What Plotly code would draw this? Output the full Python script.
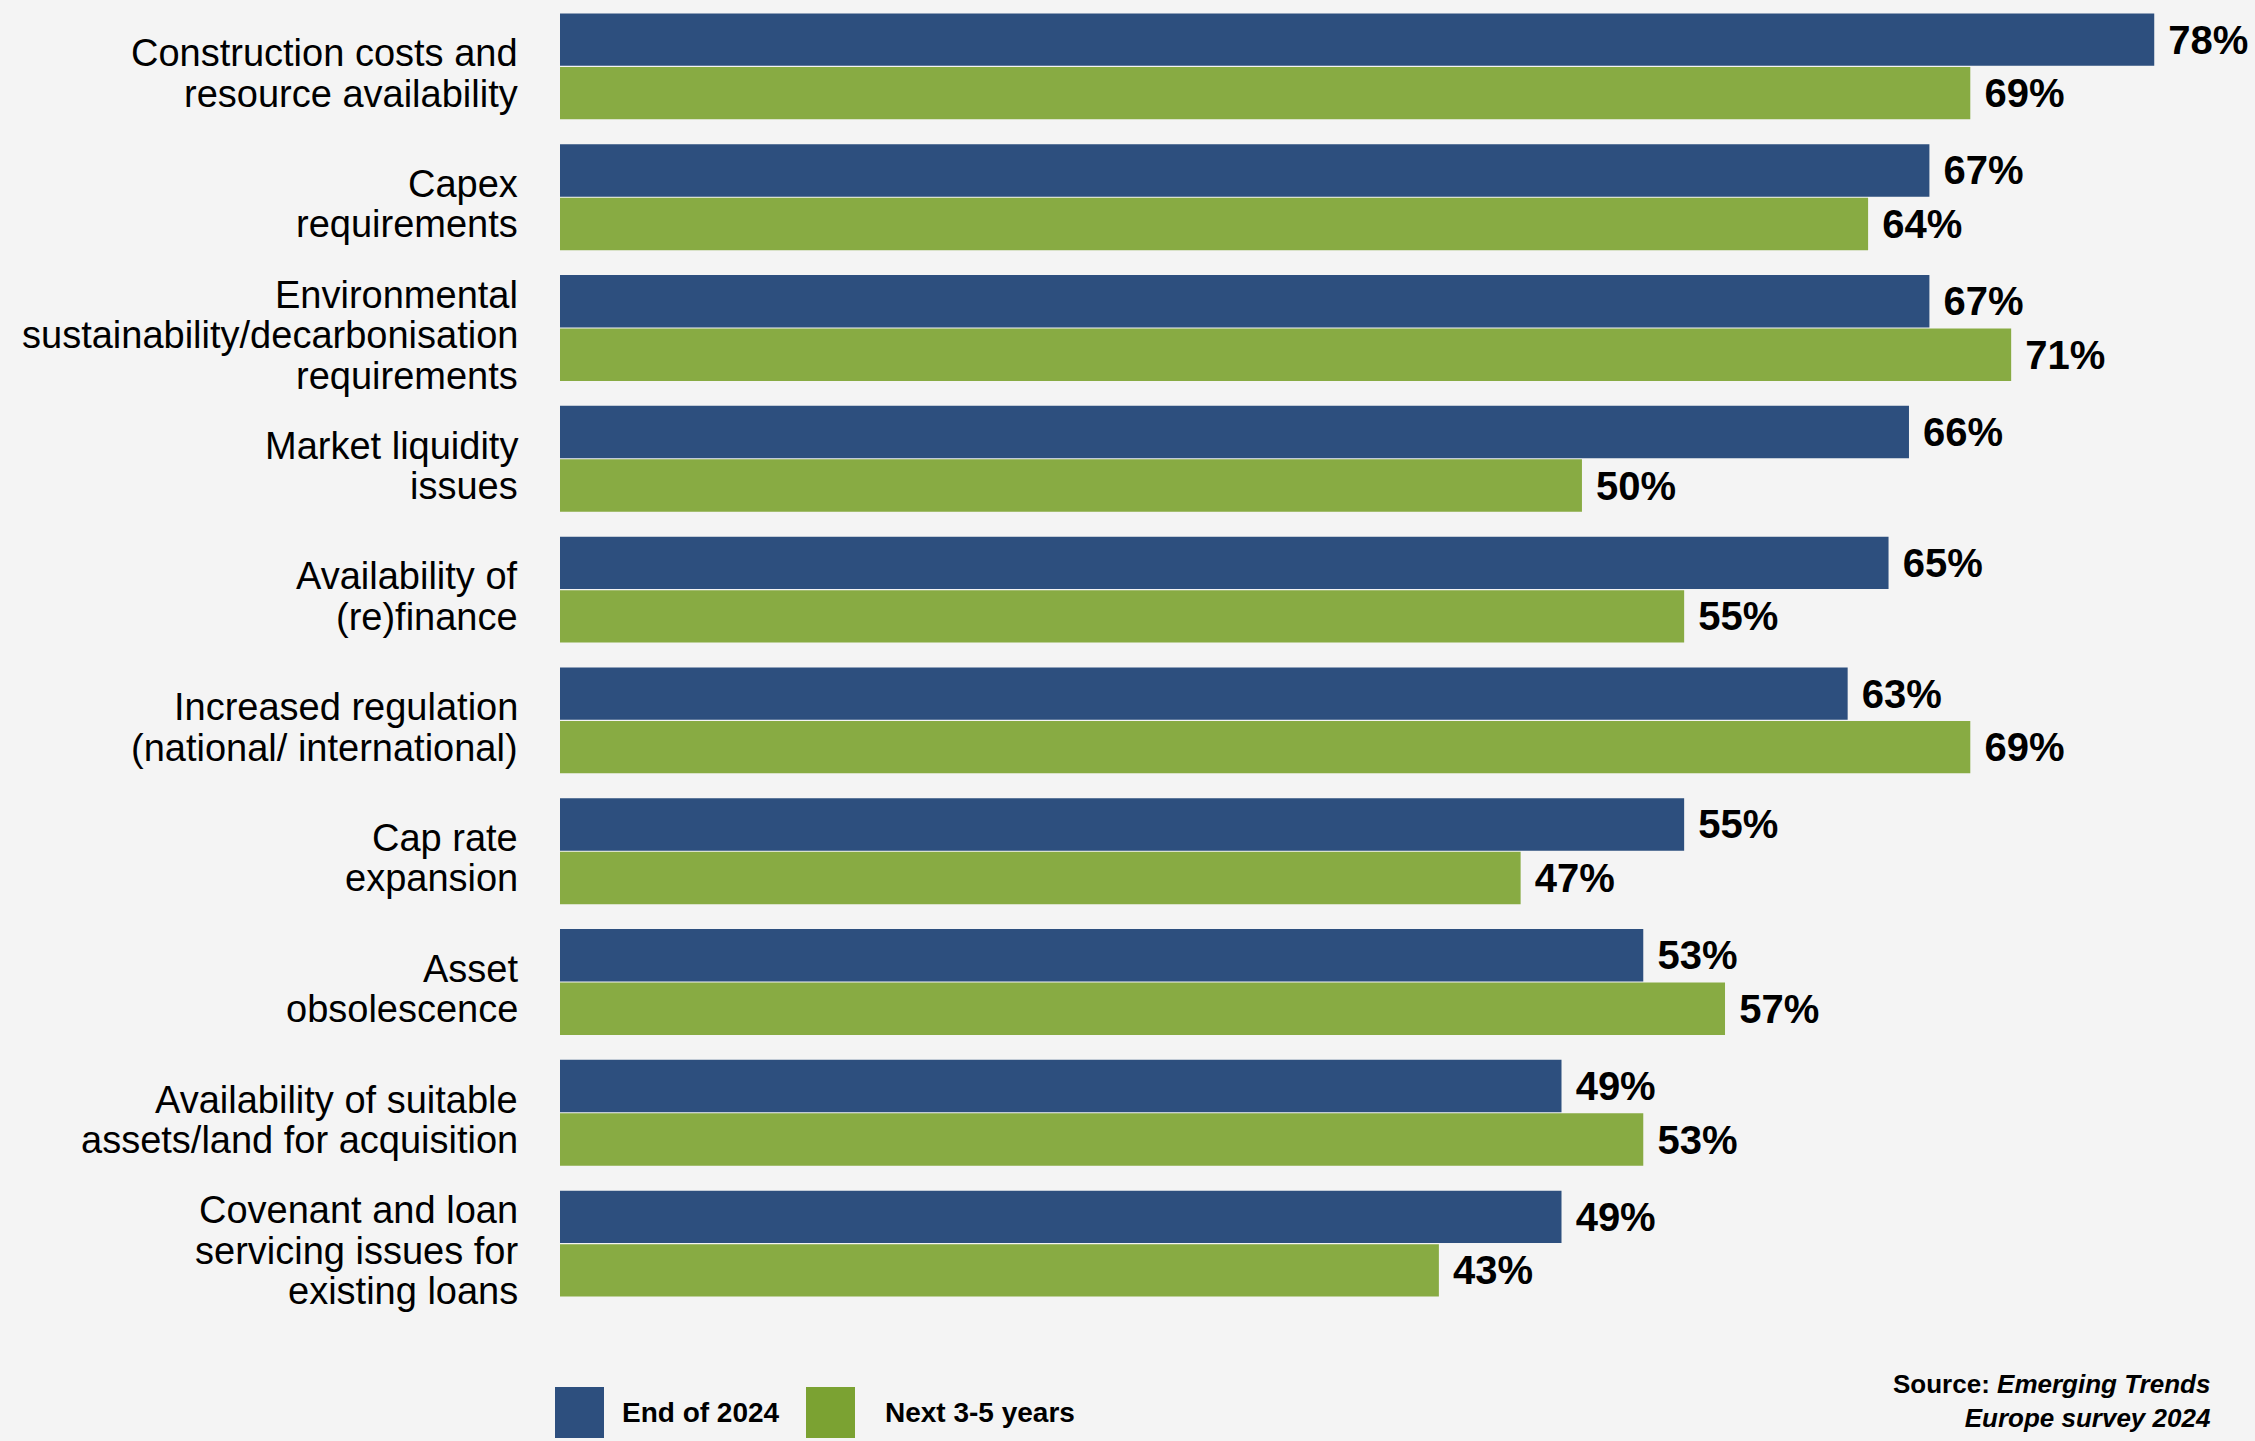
import plotly.graph_objects as go

# ---------------- data ----------------
categories = [
    "Construction costs and<br>resource availability",
    "Capex<br>requirements",
    "Environmental<br>sustainability/decarbonisation<br>requirements",
    "Market liquidity<br>issues",
    "Availability of<br>(re)finance",
    "Increased regulation<br>(national/ international)",
    "Cap rate<br>expansion",
    "Asset<br>obsolescence",
    "Availability of suitable<br>assets/land for acquisition",
    "Covenant and loan<br>servicing issues for<br>existing loans",
]
end_2024 = [78, 67, 67, 66, 65, 63, 55, 53, 49, 49]
next_3_5 = [69, 64, 71, 50, 55, 69, 47, 57, 53, 43]
series_names = ["End of 2024", "Next 3-5 years"]
source_text = "<b>Source:</b> <b><i>Emerging Trends</i></b><br><b><i>Europe survey 2024</i></b>"

# ---------------- style ----------------
W, H = 2255, 1441
ML, MR, MT, MB = 560, 19, 1, 132
PW, PH = W - ML - MR, H - MT - MB
XMAX = 82
BG = "#F4F4F4"
BAR_COLORS = ["#2D4F7E", "#88AB43"]
LEGEND_COLORS = ["#2D4F7E", "#7BA232"]
FONT = "Liberation Sans"


def px2x(px):
    return (px - ML) / PW


def py2y(py):
    return (H - MB - py) / PH


fig = go.Figure()
for name, vals, col in zip(series_names, [end_2024, next_3_5], BAR_COLORS):
    fig.add_trace(go.Bar(
        y=categories, x=vals, orientation="h", name=name,
        marker=dict(color=col, line=dict(width=0)),
        text=[f"<b>\u00a0{v}%</b>" for v in vals],
        textposition="outside",
        textfont=dict(size=40, color="black", family=FONT),
        cliponaxis=False, constraintext="none",
        hoverinfo="skip",
    ))

annotations = []
# category labels, one annotation per line for tight line spacing
LINE = 40.5
for cat in categories:
    lines = cat.split("<br>")
    n = len(lines)
    for j, ln in enumerate(lines):
        annotations.append(dict(
            xref="paper", yref="y", x=0, y=cat, text=ln,
            xanchor="right", yanchor="middle", xshift=-40,
            yshift=((n - 1) / 2 - j) * LINE - 7,
            showarrow=False, font=dict(size=38, color="black", family=FONT),
        ))

# legend (manual, large swatches)
shapes = []
legend_sw = [(555, 604), (806, 855)]
legend_tx = [620, 883]
for (x0, x1), tx, col, name in zip(legend_sw, legend_tx, LEGEND_COLORS, series_names):
    shapes.append(dict(type="rect", xref="paper", yref="paper",
                       x0=px2x(x0), x1=px2x(x1), y0=py2y(1438), y1=py2y(1387),
                       fillcolor=col, line=dict(width=0)))
    annotations.append(dict(xref="paper", yref="paper", x=px2x(tx), y=py2y(1412),
                            text=f"<b>{name}</b>", xanchor="left", yanchor="middle",
                            showarrow=False, font=dict(size=28, color="black", family=FONT)))

annotations.append(dict(xref="paper", yref="paper", x=px2x(2213), y=py2y(1401),
                        text=source_text, xanchor="right", yanchor="middle", align="right",
                        showarrow=False, font=dict(size=26, color="black", family=FONT)))

fig.update_layout(
    width=W, height=H,
    margin=dict(l=ML, r=MR, t=MT, b=MB, pad=0),
    paper_bgcolor=BG, plot_bgcolor=BG,
    barmode="group", bargap=0.182, bargroupgap=0.02,
    showlegend=False,
    xaxis=dict(range=[0, XMAX], visible=False, fixedrange=True),
    yaxis=dict(autorange="reversed", showticklabels=False, showgrid=False,
               zeroline=False, showline=False, ticks="", fixedrange=True),
    annotations=annotations, shapes=shapes,
    font=dict(family=FONT),
)

fig.write_html(
    "out.html",
    config={"displayModeBar": False},
    post_script="document.documentElement.style.margin='0';"
                "document.body.style.margin='0';"
                "document.body.style.overflow='hidden';"
                "document.body.style.background='#F4F4F4';",
)
